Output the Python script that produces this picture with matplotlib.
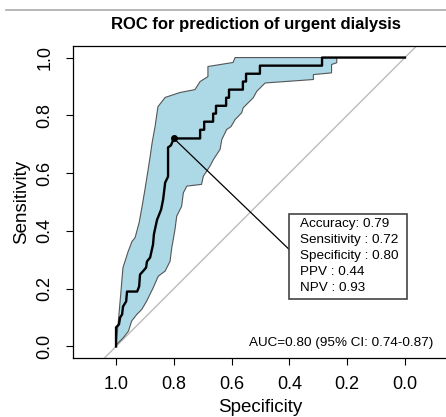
import matplotlib
matplotlib.use("Agg")
import matplotlib.pyplot as plt
from matplotlib.lines import Line2D
from matplotlib.patches import Rectangle

plt.rcParams['font.family'] = ['Liberation Sans', 'DejaVu Sans']

# ROC curve (specificity, sensitivity)
roc_spec = [1.000, 1.000, 0.990, 0.986, 0.979, 0.976, 0.965, 0.962, 0.927, 0.920,
            0.917, 0.907, 0.896, 0.893, 0.882, 0.872, 0.869, 0.858, 0.855, 0.844,
            0.837, 0.830, 0.820, 0.820, 0.810, 0.800,
            0.709, 0.709, 0.695, 0.695, 0.664, 0.664, 0.654, 0.654, 0.619, 0.619,
            0.609, 0.609, 0.561, 0.561, 0.550, 0.550, 0.502, 0.502, 0.287, 0.287, 0.000]
roc_sens = [0.000, 0.066, 0.076, 0.100, 0.111, 0.138, 0.156, 0.190, 0.190, 0.208,
            0.249, 0.260, 0.273, 0.294, 0.308, 0.353, 0.388, 0.439, 0.446, 0.474,
            0.509, 0.567, 0.588, 0.689, 0.696, 0.720,
            0.720, 0.750, 0.750, 0.778, 0.778, 0.806, 0.806, 0.833, 0.833, 0.861,
            0.861, 0.889, 0.889, 0.917, 0.917, 0.944, 0.944, 0.972, 0.972, 1.000, 1.000]

# 95% CI of sensitivity: upper bound (left edge of band)
ci_hi_spec = [1.000, 0.993, 0.990, 0.983, 0.979, 0.976, 0.958, 0.945, 0.934, 0.920,
              0.910, 0.900, 0.889, 0.882, 0.875, 0.865, 0.855, 0.830, 0.779, 0.727,
              0.709, 0.682, 0.682, 0.595, 0.588, 0.236]
ci_hi_sens = [0.007, 0.076, 0.111, 0.190, 0.239, 0.273, 0.329, 0.363, 0.377, 0.429,
              0.484, 0.543, 0.612, 0.657, 0.706, 0.761, 0.830, 0.862, 0.879, 0.889,
              0.917, 0.934, 0.969, 0.983, 1.000, 1.000]

# 95% CI of sensitivity: lower bound (right edge of band)
ci_lo_spec = [0.236, 0.236, 0.254, 0.254, 0.317, 0.317, 0.484, 0.513, 0.525, 0.560,
              0.565, 0.588, 0.602, 0.617, 0.634, 0.640, 0.663, 0.675, 0.698, 0.704,
              0.755, 0.767, 0.773, 0.790, 0.796, 0.802, 0.807, 0.813, 0.830, 0.854,
              0.871, 0.894, 0.911, 0.928, 0.946, 0.957, 0.975, 0.998]
ci_lo_sens = [1.000, 0.982, 0.976, 0.947, 0.941, 0.924, 0.912, 0.883, 0.861, 0.826,
              0.809, 0.785, 0.761, 0.751, 0.716, 0.682, 0.647, 0.624, 0.589, 0.561,
              0.555, 0.532, 0.485, 0.451, 0.405, 0.370, 0.343, 0.295, 0.261, 0.243,
              0.204, 0.157, 0.128, 0.111, 0.088, 0.053, 0.030, 0.007]

best_spec, best_sens = 0.80, 0.72
metrics = ["Accuracy: 0.79", "Sensitivity : 0.72", "Specificity : 0.80",
           "PPV : 0.44", "NPV : 0.93"]
auc_text = "AUC=0.80 (95% CI: 0.74-0.87)"
ticks = [1.0, 0.8, 0.6, 0.4, 0.2, 0.0]

W, H = 446, 417
fig = plt.figure(figsize=(W / 100, H / 100), dpi=100)
ax = fig.add_axes([73 / W, 59 / H, (448 - 73) / W, 312 / H])
ax.set_xlim(1.149, -0.149)
ax.set_ylim(-0.04, 1.04)

# chance diagonal
ax.axline((1, 0), (0, 1), color='#bbbbbb', lw=1.0, zorder=1)

band_x = ci_hi_spec + ci_lo_spec
band_y = ci_hi_sens + ci_lo_sens
ax.fill(band_x, band_y, facecolor='#add8e6', edgecolor='#555555', lw=0.8, zorder=2)

ax.plot(roc_spec, roc_sens, color='black', lw=1.7, zorder=3)
ax.plot([best_spec], [best_sens], 'o', color='black', ms=4, zorder=4)

# info box with leader line
box_l, box_r, box_b, box_t = 0.401, -0.007, 0.163, 0.457
ax.plot([best_spec, box_l], [best_sens, 0.336], color='black', lw=0.9, zorder=4)
ax.add_patch(Rectangle((box_l, box_b), box_r - box_l, box_t - box_b,
                       facecolor='white', edgecolor='#444444', lw=1.2, zorder=5))
ax.text(0.363, 0.443, "\n".join(metrics), ha='left', va='top', fontsize=9.7,
        linespacing=1.42, zorder=6)

ax.text(-0.098, 0.013, auc_text, ha='right', va='center', fontsize=9.7)

ax.set_xticks(ticks)
ax.set_xticklabels([f"{t:.1f}" for t in ticks])
ax.set_yticks(ticks)
ax.set_yticklabels([f"{t:.1f}" for t in ticks], rotation=90, va='center')
ax.tick_params(direction='out', length=5, width=0.8, labelsize=13)
ax.tick_params(axis='x', pad=8)
ax.tick_params(axis='y', pad=9)
ax.spines['right'].set_visible(False)
for s in ['left', 'bottom', 'top']:
    ax.spines[s].set_linewidth(0.9)

ax.set_xlabel("Specificity", fontsize=13.5, labelpad=4)
ax.set_ylabel("Sensitivity", fontsize=13.5, labelpad=5)
fig.text(256 / W, 1 - 25 / H, "ROC for prediction of urgent dialysis",
         ha='center', va='center', fontsize=12, fontweight='bold')

# thin rule at the top of the figure
fig.add_artist(Line2D([6 / W, 1], [1 - 10 / H, 1 - 10 / H], color='#aaaaaa', lw=1.2))

fig.savefig("out.png", dpi=100)
